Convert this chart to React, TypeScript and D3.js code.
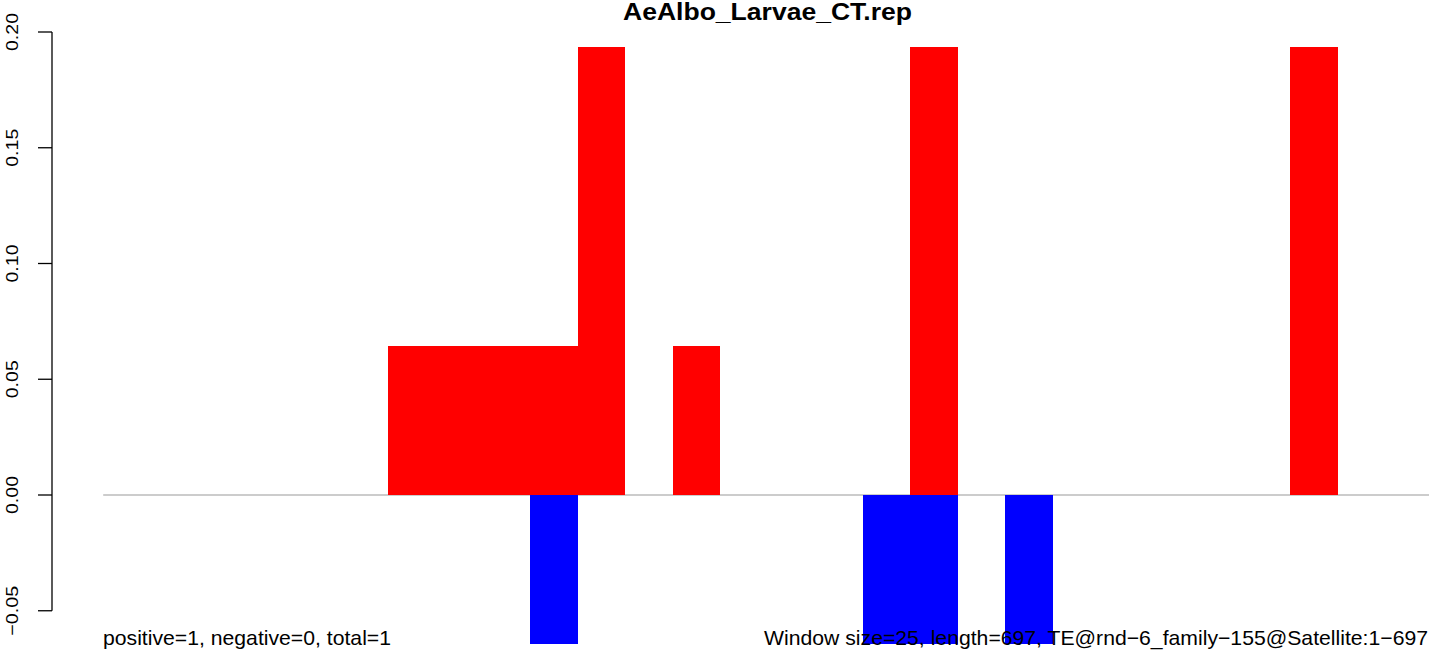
import React from "react";
import * as d3 from "d3";

const title = "AeAlbo_Larvae_CT.rep";
const windowSize = 25;
const seqLength = 697;
const windowStarts = d3.range(0, 28).map((i) => i * windowSize);
// positive (red) values per window index
const posWindows = [6, 7, 8, 9, 10, 12, 17, 25];
const posValues = [2 / 31, 2 / 31, 2 / 31, 2 / 31, 6 / 31, 2 / 31, 6 / 31, 6 / 31];
// negative (blue) values per window index
const negWindows = [9, 16, 17, 19];
const negValues = [-2 / 31, -2 / 31, -2 / 31, -2 / 31];
const yTicks = [-0.05, 0, 0.05, 0.1, 0.15, 0.2];
const leftNote = "positive=1, negative=0, total=1";
const rightNote = "Window size=25, length=697, TE@rnd\u22126_family\u2212155@Satellite:1\u2212697";

export default function App() {
  const W = 1429;
  const H = 656;
  const x = d3.scaleLinear().domain([0, 700]).range([103.2, 1432.5]);
  const y = d3.scaleLinear().domain([0, 0.2]).range([495, 32]);
  const font = "'Liberation Sans', Arial, Helvetica, sans-serif";
  const fmt = (v: number) => d3.format(".2f")(v).replace("-", "\u2212");
  const bw = x(windowSize) - x(0);
  return (
    <svg width={W} height={H} style={{ position: "absolute", left: 0, top: 0 }}>
      <rect width={W} height={H} fill="white" />
      <text
        x={623}
        y={20}
        fontFamily={font}
        fontWeight="bold"
        fontSize={23}
        textLength={289}
        lengthAdjust="spacingAndGlyphs"
      >
        {title}
      </text>
      <line x1={x(0)} x2={W} y1={y(0)} y2={y(0)} stroke="#999" strokeWidth={1.2} />
      {posWindows.map((w, i) => (
        <rect
          key={"p" + i}
          x={x(windowStarts[w])}
          width={bw}
          y={y(posValues[i])}
          height={y(0) - y(posValues[i])}
          fill="#ff0000"
          shapeRendering="crispEdges"
        />
      ))}
      {negWindows.map((w, i) => (
        <rect
          key={"n" + i}
          x={x(windowStarts[w])}
          width={bw}
          y={y(0)}
          height={y(negValues[i]) - y(0)}
          fill="#0000ff"
          shapeRendering="crispEdges"
        />
      ))}
      <line x1={52} x2={52} y1={y(0.2)} y2={y(-0.05)} stroke="black" strokeWidth={1.3} />
      {yTicks.map((t) => (
        <g key={t}>
          <line x1={38} x2={52} y1={y(t)} y2={y(t)} stroke="black" strokeWidth={1.3} />
          <text
            transform={`translate(17.5,${y(t) + (t < 0 ? 25 : 19)}) rotate(-90)`}
            fontFamily={font}
            fontSize={17}
            textLength={t < 0 ? 50 : 38}
            lengthAdjust="spacingAndGlyphs"
          >
            {fmt(t)}
          </text>
        </g>
      ))}
      <text x={103} y={645} fontFamily={font} fontSize={21} textLength={288} lengthAdjust="spacingAndGlyphs">
        {leftNote}
      </text>
      <text x={764} y={645} fontFamily={font} fontSize={21} textLength={664} lengthAdjust="spacingAndGlyphs">
        {rightNote}
      </text>
    </svg>
  );
}
